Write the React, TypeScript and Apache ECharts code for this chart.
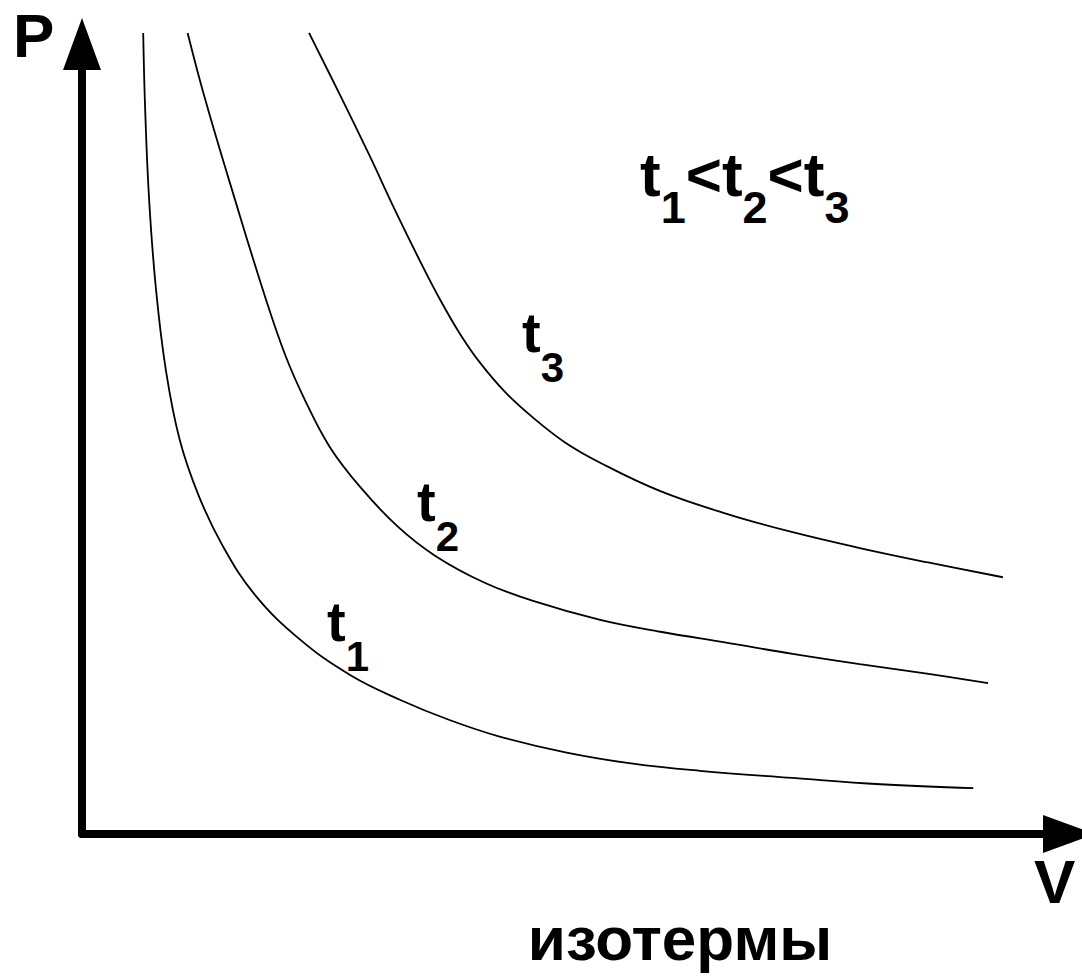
import React, { useEffect, useRef } from "react";
import * as echarts from "echarts";

// Isotherm curves: V (horizontal) and P (vertical), arbitrary units 0..10
const t1V = [0.62, 0.64, 0.68, 0.75, 0.85, 0.99, 1.18, 1.42, 1.75, 2.21, 2.72, 3.22, 3.73, 4.24, 4.91, 5.58, 6.26, 7.2, 8.09, 9.03];
const t1P = [10.14, 9.17, 8.03, 6.89, 5.87, 4.99, 4.29, 3.66, 3.03, 2.46, 2.01, 1.7, 1.44, 1.23, 1.03, 0.89, 0.8, 0.71, 0.63, 0.58];

const t2V = [1.07, 1.25, 1.55, 1.85, 2.06, 2.26, 2.51, 2.82, 3.2, 3.58, 4.08, 4.57, 5.25, 5.86, 6.54, 7.2, 7.88, 8.56, 9.18];
const t2P = [10.14, 9.29, 8.03, 6.82, 6.06, 5.49, 4.9, 4.39, 3.89, 3.52, 3.18, 2.95, 2.71, 2.56, 2.42, 2.28, 2.15, 2.03, 1.91];

const t3V = [2.3, 2.64, 2.92, 3.17, 3.43, 3.63, 3.83, 4.03, 4.29, 4.57, 4.89, 5.25, 5.86, 6.54, 7.2, 7.88, 8.56, 9.33];
const t3P = [10.14, 9.29, 8.57, 7.9, 7.24, 6.76, 6.33, 5.97, 5.59, 5.27, 4.96, 4.7, 4.34, 4.05, 3.82, 3.62, 3.44, 3.25];

const curveNames = ["t1", "t2", "t3"];
const axisNameP = "P";
const axisNameV = "V";
const captionText = "изотермы";

const FONT = '"Liberation Sans", Arial, Helvetica, sans-serif';

const zip = (xs: number[], ys: number[]) => xs.map((x, i) => [x, ys[i]]);

const makeRich = (main: number, sub: number, pad: number) => ({
  m: {
    fontSize: main,
    lineHeight: main,
    fontWeight: "bold",
    fontFamily: FONT,
    color: "#000",
    verticalAlign: "top",
  },
  s: {
    fontSize: sub,
    lineHeight: sub,
    fontWeight: "bold",
    fontFamily: FONT,
    color: "#000",
    verticalAlign: "top",
    padding: [pad, 0, 0, 0],
  },
});

export default function App() {
  const ref = useRef<HTMLDivElement>(null);

  useEffect(() => {
    if (!ref.current) return;
    const chart = echarts.init(ref.current, null, { renderer: "svg" });

    const subText = (name: string) => `{m|${name[0]}}{s|${name.slice(1)}}`;
    const orderText = curveNames.map(subText).join("{m|<}");
    const titleRich = makeRich(62, 45, 41);
    const labelRich = makeRich(56, 42, 42);

    const curves = [zip(t1V, t1P), zip(t2V, t2P), zip(t3V, t3P)];

    const labelPos = [
      [327, 593],
      [417, 473],
      [522, 304],
    ];

    const axisLine = {
      show: true,
      onZero: false,
      symbol: ["none", "triangle"],
      symbolSize: [38, 52],
      lineStyle: { color: "#000", width: 8 },
    };

    chart.setOption({
      animation: false,
      backgroundColor: "#fff",
      grid: { left: 82, right: 13, top: 44, bottom: 142, outerBoundsMode: "none", containLabel: false },
      xAxis: {
        type: "value",
        min: 0,
        max: 10,
        axisLine,
        axisTick: { show: false },
        axisLabel: { show: false },
        splitLine: { show: false },
      },
      yAxis: {
        type: "value",
        min: 0,
        max: 10,
        axisLine,
        axisTick: { show: false },
        axisLabel: { show: false },
        splitLine: { show: false },
      },
      series: curves.map((data, i) => ({
        type: "line",
        name: curveNames[i],
        data,
        symbol: "none",
        smooth: 0.4,
        clip: false,
        silent: true,
        lineStyle: { color: "#000", width: 1.8 },
      })),
      graphic: [
        {
          type: "text",
          x: 13,
          y: 35.5,
          style: { text: axisNameP, font: `bold 62px ${FONT}`, fill: "#000", align: "left", verticalAlign: "middle" },
        },
        {
          type: "text",
          x: 1034,
          y: 881.5,
          style: { text: axisNameV, font: `bold 62px ${FONT}`, fill: "#000", align: "left", verticalAlign: "middle" },
        },
        {
          type: "text",
          x: 680,
          y: 938,
          style: { text: captionText, font: `bold 62px ${FONT}`, fill: "#000", align: "center", verticalAlign: "middle" },
        },
        {
          type: "text",
          x: 640,
          y: 143.5,
          style: { text: orderText, rich: titleRich, align: "left", verticalAlign: "top" },
        },
        ...curveNames.map((name, i) => ({
          type: "text",
          x: labelPos[i][0],
          y: labelPos[i][1],
          style: { text: subText(name), rich: labelRich, align: "left", verticalAlign: "top" },
        })),
      ],
    });

    return () => chart.dispose();
  }, []);

  return (
    <div
      ref={ref}
      style={{ position: "fixed", left: 0, top: 0, width: 1082, height: 976, background: "#fff" }}
    />
  );
}
